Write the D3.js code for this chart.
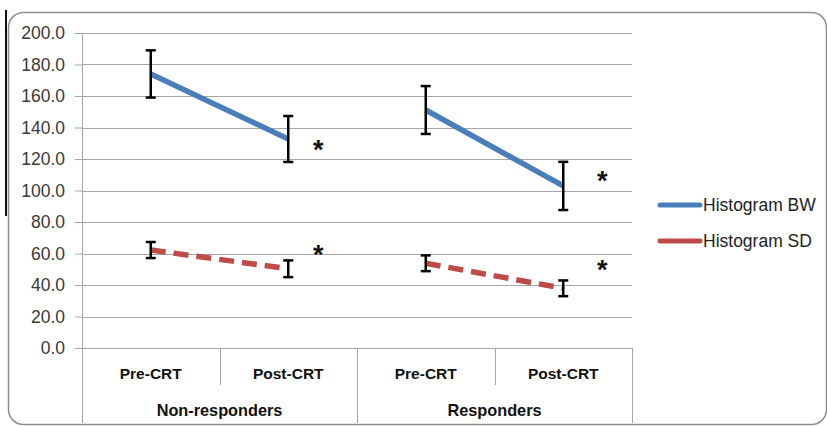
<!DOCTYPE html>
<html>
<head>
<meta charset="utf-8">
<script src="https://cdn.jsdelivr.net/npm/d3@7"></script>
<style>
  body { margin: 0; background: #fff; }
  text { font-family: "Liberation Sans", Arial, sans-serif; }
</style>
</head>
<body>
<div id="chart"></div>
<script>
// data
var categories = ["NR-Pre", "NR-Post", "R-Pre", "R-Post"];
var catLabels = ["Pre-CRT", "Post-CRT", "Pre-CRT", "Post-CRT"];
var groups = ["Non-responders", "Responders"];
var bwValues = [174.0, 132.7, 151.1, 102.9];
var bwErr = [15.0, 14.6, 15.2, 15.3];
var sdValues = [62.2, 50.3, 53.8, 37.9];
var sdErr = [5.1, 5.3, 5.0, 5.0];
var yTicks = [0, 20, 40, 60, 80, 100, 120, 140, 160, 180, 200];
// asterisks: [category index, value]
var stars = [[1, 127.6], [1, 61.0], [3, 107.9], [3, 51.4]];

var W = 827, H = 426;
var plot = { left: 82, right: 632, top: 33, bottom: 348 };

var x = d3.scaleBand()
    .domain(categories)
    .range([plot.left, plot.right])
    .padding(0);

var y = d3.scaleLinear()
    .domain([0, 200])
    .range([plot.bottom, plot.top]);

var svg = d3.select("#chart").append("svg")
    .attr("width", W)
    .attr("height", H);

// outer frame
svg.append("rect")
    .attr("x", 8.5).attr("y", 12.5)
    .attr("width", 818).attr("height", 412)
    .attr("rx", 15).attr("ry", 15)
    .attr("fill", "none")
    .attr("stroke", "#8e8e8e")
    .attr("stroke-width", 1.5);

svg.append("line")
    .attr("x1", 6).attr("x2", 6)
    .attr("y1", 10).attr("y2", 216)
    .attr("stroke", "#111")
    .attr("stroke-width", 2);

// gridlines + y axis
var yAxis = d3.axisLeft(y)
    .tickValues(yTicks)
    .tickSize(7)
    .tickPadding(10)
    .tickFormat(d3.format(".1f"));

var gy = svg.append("g")
    .attr("transform", "translate(" + plot.left + ",0)")
    .call(yAxis);
gy.select(".domain").remove();
gy.selectAll("line").attr("stroke", "#a6a6a6");
gy.selectAll("text")
    .attr("font-size", 17.5)
    .attr("fill", "#3a3a3a")
    .attr("font-family", "Liberation Sans, Arial, sans-serif");

svg.append("g")
    .selectAll("line")
    .data(yTicks.filter(d => d > 0))
    .enter().append("line")
    .attr("x1", plot.left).attr("x2", plot.right)
    .attr("y1", d => Math.round(y(d)) + 0.5)
    .attr("y2", d => Math.round(y(d)) + 0.5)
    .attr("stroke", "#a6a6a6");

// x axis line at 0
svg.append("line")
    .attr("x1", plot.left - 7).attr("x2", plot.right)
    .attr("y1", Math.round(y(0)) + 0.5).attr("y2", Math.round(y(0)) + 0.5)
    .attr("stroke", "#a6a6a6");

// category separators
var bw = x.bandwidth();
var sepTop = plot.bottom;
categories.forEach(function (c, i) {
    var xl = Math.round(x(c)) + 0.5;
    svg.append("line")
        .attr("x1", xl).attr("x2", xl)
        .attr("y1", i === 0 ? plot.top : sepTop)
        .attr("y2", i % 2 === 0 ? 423 : 385)
        .attr("stroke", "#a6a6a6");
});
svg.append("line")
    .attr("x1", Math.round(plot.right) + 0.5).attr("x2", Math.round(plot.right) + 0.5)
    .attr("y1", sepTop).attr("y2", 423)
    .attr("stroke", "#a6a6a6");

svg.append("g")
    .selectAll("text")
    .data(categories)
    .enter().append("text")
    .attr("x", d => x(d) + bw / 2)
    .attr("y", 379)
    .attr("text-anchor", "middle")
    .attr("font-size", 15.5)
    .attr("font-weight", "bold")
    .attr("fill", "#111")
    .text((d, i) => catLabels[i]);

svg.append("g")
    .selectAll("text")
    .data(groups)
    .enter().append("text")
    .attr("x", (d, i) => x(categories[i * 2]) + bw)
    .attr("y", 416)
    .attr("text-anchor", "middle")
    .attr("font-size", 16.3)
    .attr("font-weight", "bold")
    .attr("fill", "#111")
    .text(d => d);

// series: two line segments per series (one per group)
var series = [
    { name: "Histogram BW", values: bwValues, err: bwErr, color: "#4a7ebb", dash: null },
    { name: "Histogram SD", values: sdValues, err: sdErr, color: "#be4b48", dash: "15,8" }
];

var line = d3.line()
    .x(d => x(d.c) + bw / 2)
    .y(d => y(d.v));

series.forEach(function (s) {
    var pts = categories.map((c, i) => ({ c: c, v: s.values[i], e: s.err[i] }));
    [pts.slice(0, 2), pts.slice(2, 4)].forEach(function (seg) {
        svg.append("path")
            .datum(seg)
            .attr("d", line)
            .attr("fill", "none")
            .attr("stroke", s.color)
            .attr("stroke-width", 5.5)
            .attr("stroke-dasharray", s.dash);
    });

    var eb = svg.append("g").selectAll("g")
        .data(pts)
        .enter().append("g");
    eb.append("line")
        .attr("x1", d => x(d.c) + bw / 2).attr("x2", d => x(d.c) + bw / 2)
        .attr("y1", d => y(d.v + d.e)).attr("y2", d => y(d.v - d.e))
        .attr("stroke", "#000").attr("stroke-width", 2.5);
    eb.append("line")
        .attr("x1", d => x(d.c) + bw / 2 - 5).attr("x2", d => x(d.c) + bw / 2 + 5)
        .attr("y1", d => y(d.v + d.e)).attr("y2", d => y(d.v + d.e))
        .attr("stroke", "#000").attr("stroke-width", 2.5);
    eb.append("line")
        .attr("x1", d => x(d.c) + bw / 2 - 5).attr("x2", d => x(d.c) + bw / 2 + 5)
        .attr("y1", d => y(d.v - d.e)).attr("y2", d => y(d.v - d.e))
        .attr("stroke", "#000").attr("stroke-width", 2.5);
});

// significance asterisks
svg.append("g")
    .selectAll("text")
    .data(stars)
    .enter().append("text")
    .attr("x", d => x(categories[d[0]]) + bw / 2 + (d[0] === 1 ? 30 : 39))
    .attr("y", d => y(d[1]) + 12)
    .attr("text-anchor", "middle")
    .attr("font-size", 27)
    .attr("font-weight", "bold")
    .attr("fill", "#111")
    .text("*");

// legend
var legend = svg.append("g")
    .selectAll("g")
    .data(series)
    .enter().append("g")
    .attr("transform", (d, i) => "translate(658," + (205 + i * 36) + ")");
legend.append("line")
    .attr("x1", 2).attr("x2", 42)
    .attr("y1", 0).attr("y2", 0)
    .attr("stroke", d => d.color)
    .attr("stroke-width", 5)
    .attr("stroke-linecap", "round");
legend.append("text")
    .attr("x", 45)
    .attr("y", 6)
    .attr("font-size", 17.5)
    .attr("fill", "#222")
    .text(d => d.name);
</script>
</body>
</html>
